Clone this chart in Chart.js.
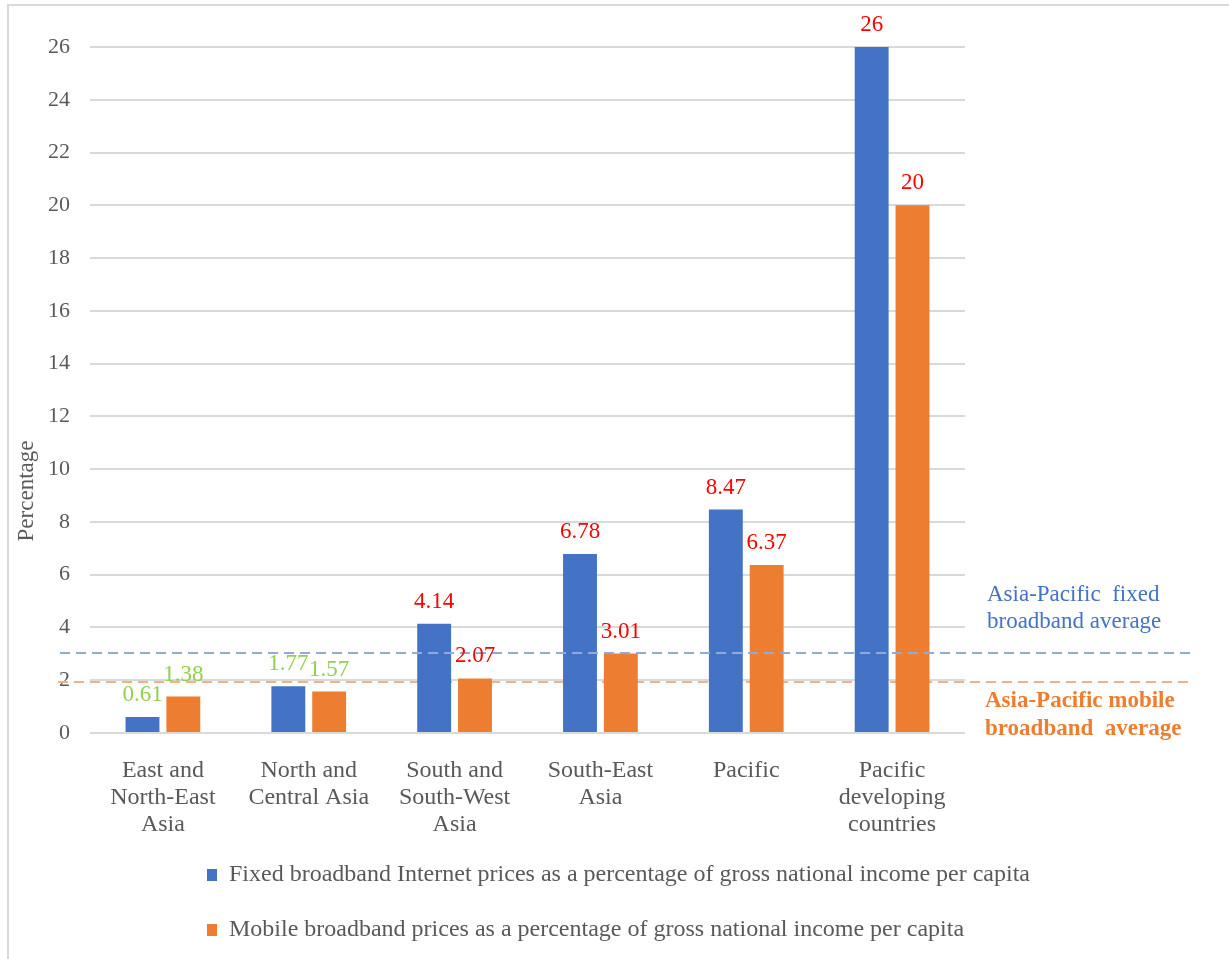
<!DOCTYPE html>
<html>
<head>
<meta charset="utf-8">
<script src="https://cdn.jsdelivr.net/npm/chart.js@4/dist/chart.umd.min.js"></script>
<style>
  body { margin: 0; background: #fff; }
  #wrap { position: relative; width: 1229px; height: 959px; }
  #wrap .edgeTop { position: absolute; left: 7px; top: 4px; right: 0; height: 2px; background: #d9d9d9; }
  #wrap .edgeLeft { position: absolute; left: 7px; top: 4px; bottom: 0; width: 2px; background: #d9d9d9; }
</style>
</head>
<body>
<div id="wrap">
  <canvas id="chart"></canvas>
  <div class="edgeTop"></div>
  <div class="edgeLeft"></div>
</div>
<script>
// data
const regions = [
    ['East and', 'North-East', 'Asia'],
    ['North and', 'Central Asia'],
    ['South and', 'South-West', 'Asia'],
    ['South-East', 'Asia'],
    ['Pacific'],
    ['Pacific', 'developing', 'countries']
];
const fixedPrices = [0.61, 1.77, 4.14, 6.78, 8.47, 26];
const mobilePrices = [1.38, 1.57, 2.07, 3.01, 6.37, 20];
const fixedAverage = 3.03;
const mobileAverage = 1.93;
const yMin = 0, yMax = 26, yStep = 2;

const seriesNames = [
    'Fixed broadband Internet prices as a percentage of gross national income per capita',
    'Mobile broadband prices as a percentage of gross national income per capita'
];

const BLUE = '#4472C4';
const ORANGE = '#ED7D31';
const GREY = '#595959';
const FONT = '"Liberation Serif", "Times New Roman", serif';

// labels, average lines and the axis title
const extras = {
    id: 'extras',
    afterLayout(chart) {
        // keep both legend rows starting at the same x
        const lg = chart.legend;
        if (lg && lg.lineWidths) {
            const m = Math.max(...lg.lineWidths);
            lg.lineWidths = lg.lineWidths.map(() => m);
        }
    },
    beforeDatasetsDraw(chart) {
        const ctx = chart.ctx;
        const y = chart.scales.y.getPixelForValue(mobileAverage);
        ctx.save();
        ctx.strokeStyle = '#F4B183';
        ctx.lineWidth = 2;
        ctx.setLineDash([10, 6]);
        ctx.beginPath();
        ctx.moveTo(58, y);
        ctx.lineTo(1194, y);
        ctx.stroke();
        ctx.restore();
    },
    afterDatasetsDraw(chart) {
        const ctx = chart.ctx;
        const ys = chart.scales.y;
        const area = chart.chartArea;

        ctx.save();
        // fixed average dashed line
        const yf = ys.getPixelForValue(fixedAverage);
        ctx.strokeStyle = '#8FAADC';
        ctx.lineWidth = 2;
        ctx.setLineDash([10, 6]);
        ctx.beginPath();
        ctx.moveTo(60, yf);
        ctx.lineTo(1195, yf);
        ctx.stroke();
        ctx.setLineDash([]);

        // value labels
        ctx.font = '23px ' + FONT;
        ctx.textAlign = 'center';
        ctx.textBaseline = 'middle';
        chart.data.datasets.forEach((ds, i) => {
            chart.getDatasetMeta(i).data.forEach((bar, j) => {
                const v = ds.data[j];
                ctx.fillStyle = v < 2 ? '#92D050' : '#FF0000';
                ctx.fillText(String(v), bar.x, bar.y - 22);
            });
        });

        // side notes
        const ym = ys.getPixelForValue(mobileAverage);
        const tx = area.right + 22;
        ctx.textAlign = 'left';
        ctx.fillStyle = BLUE;
        ctx.font = '23px ' + FONT;
        ctx.fillText('Asia-Pacific  fixed', tx, yf - 58);
        ctx.fillText('broadband average', tx, yf - 31);
        ctx.fillStyle = ORANGE;
        ctx.font = 'bold 23px ' + FONT;
        ctx.fillText('Asia-Pacific mobile', tx - 2, ym + 19);
        ctx.fillText('broadband  average', tx - 2, ym + 47);

        // y title
        ctx.translate(27, 491);
        ctx.rotate(-Math.PI / 2);
        ctx.textAlign = 'center';
        ctx.fillStyle = GREY;
        ctx.font = '23px ' + FONT;
        ctx.fillText('Percentage', 0, 0);
        ctx.restore();
    }
};

new Chart(document.getElementById('chart'), {
    type: 'bar',
    data: {
        labels: regions,
        datasets: [
            { label: seriesNames[0], data: fixedPrices, backgroundColor: BLUE, borderWidth: 0 },
            { label: seriesNames[1], data: mobilePrices, backgroundColor: ORANGE, borderWidth: 0 }
        ]
    },
    options: {
        responsive: true,
        maintainAspectRatio: false,
        animation: false,
        categoryPercentage: 0.56,
        barPercentage: 0.83,
        layout: { padding: { top: 47, left: 8, right: 0, bottom: 7 } },
        plugins: {
            tooltip: { enabled: false },
            legend: {
                position: 'bottom',
                align: 'center',
                labels: {
                    font: { family: FONT, size: 24 },
                    color: GREY,
                    boxWidth: 10,
                    boxHeight: 12,
                    padding: 31
                }
            }
        },
        scales: {
            x: {
                grid: { display: false },
                border: { display: false },
                ticks: {
                    font: { family: FONT, size: 24, lineHeight: 1.13 },
                    color: GREY,
                    padding: 16,
                    maxRotation: 0,
                    autoSkip: false
                },
                afterFit: s => { s.height = 99; }
            },
            y: {
                min: yMin,
                max: yMax,
                grid: { color: '#D9D9D9', lineWidth: 2, drawTicks: false },
                border: { display: false },
                ticks: {
                    stepSize: yStep,
                    font: { family: FONT, size: 22 },
                    color: GREY,
                    padding: 20
                },
                afterFit: s => { s.width = 82; }
            },
            side: {
                type: 'linear',
                position: 'right',
                grid: { display: false },
                border: { display: false },
                ticks: { display: false },
                afterFit: s => { s.width = 264; }
            }
        }
    },
    plugins: [extras]
});
</script>
</body>
</html>
